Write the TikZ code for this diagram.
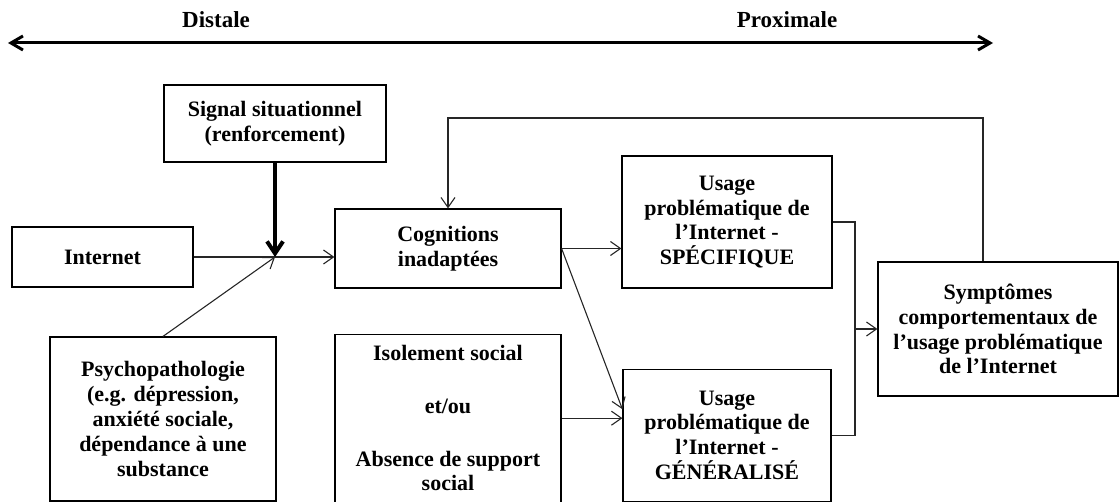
\documentclass[tikz,border=0pt]{standalone}
\usepackage{fontspec}
\setmainfont{Liberation Serif}
\usetikzlibrary{arrows.meta,positioning}

\begin{document}
\begin{tikzpicture}[
  x=0.5pt, y=-0.5pt,
  font=\fontsize{11}{12.4}\selectfont\bfseries,
  box/.style={draw, line width=0.6pt, align=center, inner sep=0pt, minimum width=#1},
  link/.style={line width=0.55pt, black!85},
  arr/.style={link, -{Straight Barb[length=5pt, width=7pt]}},
  big/.style={-{Straight Barb[length=6pt, width=8pt]}, line width=2pt},
  axisline/.style={{Straight Barb[length=6pt, width=7pt]}-{Straight Barb[length=6pt, width=7pt]}, line width=1.5pt},
  lab/.style={font=\fontsize{11.5}{12}\selectfont\bfseries},
]
\useasboundingbox (0,0) rectangle (1120,502);

% ── distal / proximal scale ───────────────────────────────────────────────
\coordinate (far) at (8,43);
\coordinate (near) at (993,43);
\node[lab] (dist) at (216,20) {Distale};
\node[lab] (prox) at (787,20) {Proximale};
\draw[axisline] (far) -- (near);

% ── left side ─────────────────────────────────────────────────────────────
\node[box=111pt, minimum height=38.5pt] (sig) at (275,123.5) {Signal situationnel\\(renforcement)};
\node[box=90.5pt, minimum height=30pt] (inet) at (102.5,257) {Internet};
\node[box=113pt, minimum height=82pt] (psy) at (163,419) {Psychopathologie\\(e.g. dépression,\\anxiété sociale,\\dépendance à une\\substance};

% ── middle ────────────────────────────────────────────────────────────────
\node[box=113pt, minimum height=39.5pt] (cog) at (448,248.5) {Cognitions\\inadaptées};
\node[box=113pt, minimum height=84pt, below=22.5pt of cog] (iso) {Isolement social\\[14pt]et/ou\\[14pt]Absence de support\\social};

% ── right side ────────────────────────────────────────────────────────────
\node[box=105pt, minimum height=66pt] (spec) at (727,222) {Usage\\problématique de\\l’Internet -\\SPÉCIFIQUE};
\node[box=104pt, minimum height=66pt, below=40pt of spec] (gen) {Usage\\problématique de\\l’Internet -\\GÉNÉRALISÉ};
\node[box=120pt, minimum height=67pt] (sym) at (998,329) {Symptômes\\comportementaux de\\l’usage problématique\\de l’Internet};

% ── arrows ────────────────────────────────────────────────────────────────
\coordinate (j) at (275,257);
\coordinate (m) at (855,329);
\coordinate (loop) at (700,118);
\draw[arr] (inet.east) -- (inet.east -| cog.west);
\draw[big] (sig) -- (j);
\draw[arr] (psy.north) -- (j);
\draw[arr] (cog.east) -- (cog.east -| spec.west);
\draw[arr] (cog.east) -- ([yshift=13pt]gen.west);
\draw[arr] (iso.east) -- (iso.east -| gen.west);
\draw[link] (spec.east) -| (m) |- (gen.east);
\draw[arr] (m) -- (sym.west);
\draw[arr] ([xshift=-7.5pt]sym.north) |- (loop) -| (cog.north);
\end{tikzpicture}
\end{document}
